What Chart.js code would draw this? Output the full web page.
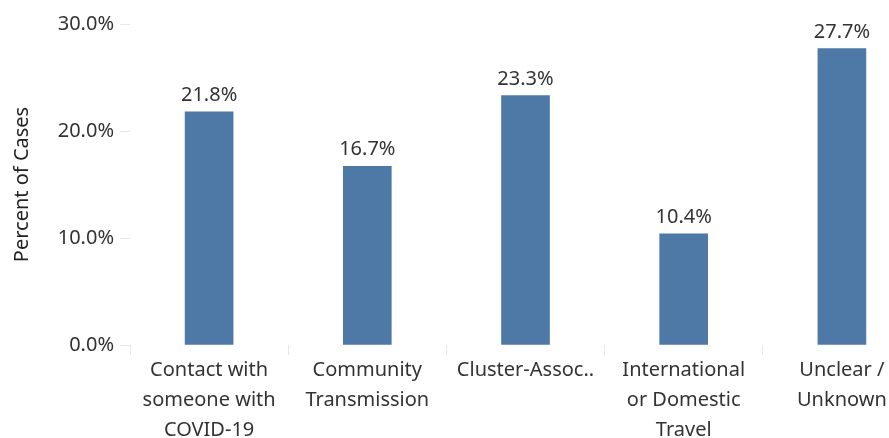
<!DOCTYPE html>
<html>
<head>
<meta charset="utf-8">
<script src="https://cdn.jsdelivr.net/npm/chart.js@4"></script>
<style>
  html, body { margin: 0; padding: 0; background: #fff; overflow: hidden; }
  #wrap { width: 889px; height: 438px; overflow: hidden; }
</style>
</head>
<body>
<div id="wrap"><canvas id="sourceChart" width="925" height="438"></canvas></div>
<script>
var categories = [
    ['Contact with', 'someone with', 'COVID-19'],
    ['Community', 'Transmission'],
    ['Cluster-Assoc..'],
    ['International', 'or Domestic', 'Travel'],
    ['Unclear /', 'Unknown']
];
var percentCases = [21.8, 16.7, 23.3, 10.4, 27.7];
var yTicks = [0, 10, 20, 30];

var fontFamily = '"Noto Sans", "Open Sans", sans-serif';

// draws the value above each bar
var barLabels = {
    id: 'barLabels',
    afterDatasetsDraw: function(chart) {
        var ctx = chart.ctx;
        var meta = chart.getDatasetMeta(0);
        ctx.save();
        ctx.font = '20px ' + fontFamily;
        ctx.fillStyle = '#333';
        ctx.textAlign = 'center';
        ctx.textBaseline = 'alphabetic';
        meta.data.forEach(function(bar, i) {
            ctx.fillText(percentCases[i].toFixed(1) + '%', bar.x, bar.y - 11);
        });
        ctx.restore();
    }
};

document.addEventListener("DOMContentLoaded", function() {
    var ctx = document.getElementById('sourceChart').getContext('2d');
    new Chart(ctx, {
        type: 'bar',
        data: {
            labels: categories,
            datasets: [{
                data: percentCases,
                backgroundColor: '#4e79a7',
                barThickness: 48
            }]
        },
        plugins: [barLabels],
        options: {
            responsive: false,
            animation: false,
            layout: { padding: { top: 24, right: 4, left: 0, bottom: 0 } },
            plugins: {
                legend: { display: false },
                tooltip: { enabled: false }
            },
            scales: {
                x: {
                    grid: {
                        drawOnChartArea: false,
                        tickLength: 10,
                        color: '#e8e8e8'
                    },
                    border: { display: false },
                    ticks: {
                        color: '#333',
                        padding: 0,
                        maxRotation: 0,
                        autoSkip: false,
                        font: { family: fontFamily, size: 20, lineHeight: '30px' }
                    },
                    afterFit: function(scale) { scale.height = 93; }
                },
                y: {
                    min: 0,
                    max: 30,
                    afterBuildTicks: function(scale) {
                        scale.ticks = yTicks.map(function(v) { return { value: v }; });
                    },
                    grid: {
                        drawOnChartArea: false,
                        tickLength: 10,
                        color: '#e8e8e8'
                    },
                    border: { display: false },
                    ticks: {
                        color: '#333',
                        padding: 6,
                        font: { family: fontFamily, size: 20 },
                        callback: function(v) { return v.toFixed(1) + '%'; }
                    },
                    title: {
                        display: true,
                        text: 'Percent of Cases',
                        color: '#222',
                        font: { family: fontFamily, size: 20 },
                        padding: { top: 10, bottom: 0 }
                    },
                    afterFit: function(scale) { scale.width = 130; }
                }
            }
        }
    });
});
</script>
</body>
</html>
